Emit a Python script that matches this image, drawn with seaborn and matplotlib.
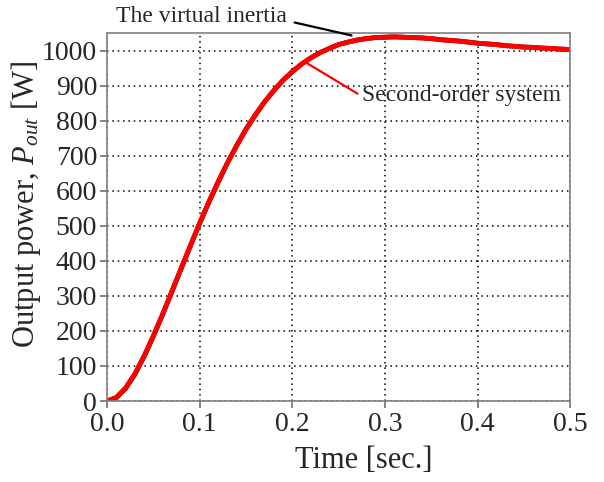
import matplotlib
matplotlib.use("Agg")
import matplotlib.pyplot as plt
import seaborn as sns
import pandas as pd

time_s = [0.00, 0.01, 0.02, 0.03, 0.04, 0.05, 0.06, 0.07, 0.08, 0.09, 0.10,
          0.11, 0.12, 0.13, 0.14, 0.15, 0.16, 0.17, 0.18, 0.19, 0.20,
          0.21, 0.22, 0.23, 0.24, 0.25, 0.26, 0.27, 0.28, 0.29, 0.30,
          0.31, 0.32, 0.33, 0.34, 0.35, 0.36, 0.37, 0.38, 0.39, 0.40,
          0.41, 0.42, 0.43, 0.44, 0.45, 0.46, 0.47, 0.48, 0.49, 0.50]
virtual_inertia = [0, 9, 35, 75, 126, 184, 246, 311, 377, 442, 506,
                   567, 624, 679, 728, 775, 815, 853, 885, 915, 939,
                   961, 979, 994, 1006, 1017, 1024, 1030, 1034, 1037, 1038,
                   1039, 1038, 1037, 1036, 1034, 1031, 1029, 1027, 1024, 1021,
                   1019, 1017, 1014, 1012, 1010, 1009, 1007, 1006, 1004, 1003]
second_order = [0, 10, 37, 77, 128, 185, 247, 312, 378, 443, 507,
                568, 625, 679, 729, 775, 816, 853, 886, 915, 940,
                961, 979, 994, 1006, 1017, 1024, 1030, 1034, 1037, 1038,
                1039, 1038, 1037, 1036, 1034, 1031, 1029, 1027, 1024, 1021,
                1019, 1017, 1014, 1012, 1010, 1009, 1007, 1006, 1004, 1003]
x_ticks = [0.0, 0.1, 0.2, 0.3, 0.4, 0.5]
y_ticks = list(range(0, 1001, 100))

sns.set_style("ticks")
plt.rcParams["font.family"] = ["Liberation Serif", "DejaVu Serif"]
plt.rcParams["mathtext.fontset"] = "custom"
plt.rcParams["mathtext.rm"] = "Liberation Serif"
plt.rcParams["mathtext.it"] = "Liberation Serif:italic"

df = pd.DataFrame({"t": time_s, "vi": virtual_inertia, "so": second_order})

fig = plt.figure(figsize=(6.04, 4.82), dpi=100)
ax = fig.add_axes([0.177, 0.168, 0.767, 0.7635])

sns.lineplot(data=df, x="t", y="vi", ax=ax, color="black", linewidth=3.4)
sns.lineplot(data=df, x="t", y="so", ax=ax, color="#ff0000", linewidth=3.5)

ax.set_xlim(0, 0.5)
ax.set_ylim(0, 1050)
ax.set_xticks(x_ticks)
ax.set_xticklabels([f"{v:.1f}" for v in x_ticks])
ax.set_yticks(y_ticks)
ax.grid(True, linestyle=(0, (1, 2.5)), color="black", linewidth=1.1)
for s in ax.spines.values():
    s.set_color("#808080")
    s.set_linewidth(1.2)
ax.tick_params(axis="both", direction="out", length=5, width=1.2, color="#707070",
               labelsize=20)
ax.tick_params(axis="x", pad=3)
ax.tick_params(axis="y", pad=2)
ax.set_xlabel("Time [sec.]", fontsize=22)
ax.set_ylabel(r"Output power, $P_{out}$ [W]", fontsize=22)
ax.xaxis.set_label_coords(0.554, -0.122)
ax.yaxis.set_label_coords(-0.138, 0.535)

# annotation: The virtual inertia
ax.annotate("", xy=(0.264, 1043), xytext=(0.2026, 1080), textcoords="data",
            annotation_clip=False,
            arrowprops=dict(arrowstyle="-", color="black", lw=1.6,
                            shrinkA=0, shrinkB=0))
ax.text(0.194, 1097, "The virtual inertia", fontsize=17, ha="right", va="center",
        clip_on=False)

# annotation: Second-order system
ax.annotate("", xy=(0.2166, 963), xytext=(0.2705, 877), textcoords="data",
            arrowprops=dict(arrowstyle="-", color="red", lw=1.6,
                            shrinkA=0, shrinkB=0))
ax.text(0.2748, 873, "Second-order system", fontsize=17, ha="left", va="center")

fig.savefig("out.png", dpi=100)
